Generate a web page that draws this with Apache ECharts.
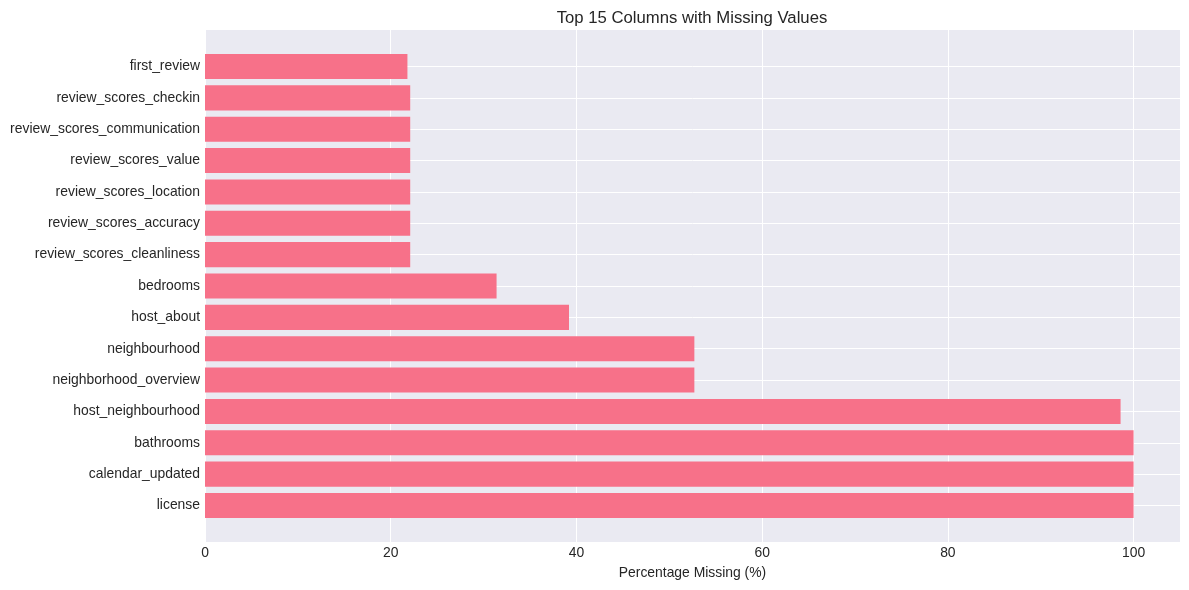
<!DOCTYPE html>
<html>
<head>
<meta charset="utf-8">
<script src="https://cdn.jsdelivr.net/npm/echarts@6/dist/echarts.min.js"></script>
<style>
  html, body { margin: 0; padding: 0; background: #fff; }
  #chart { width: 1189px; height: 590px; }
</style>
</head>
<body>
<div id="chart"></div>
<script>
// 列名（从下往上）
var columns = [
  'license', 'calendar_updated', 'bathrooms', 'host_neighbourhood',
  'neighborhood_overview', 'neighbourhood', 'host_about', 'bedrooms',
  'review_scores_cleanliness', 'review_scores_accuracy', 'review_scores_location',
  'review_scores_value', 'review_scores_communication', 'review_scores_checkin',
  'first_review'
]
// 缺失百分比
var missingPct = [100, 100, 100, 98.6, 52.7, 52.7, 39.2, 31.4, 22.1, 22.1, 22.1, 22.1, 22.1, 22.1, 21.8]
var xTicks = [0, 20, 40, 60, 80, 100]

var font = 'Liberation Sans, Arial, sans-serif'
var textColor = '#262626'

var myChart = echarts.init(document.getElementById('chart'))
var option = {
  animation: false,
  title: {
    text: 'Top 15 Columns with Missing Values',
    left: 687,
    top: 5,
    textAlign: 'center',
    textStyle: { fontFamily: font, fontSize: 16.7, fontWeight: 'normal', color: textColor }
  },
  grid: [
    // 柱子所在区域
    { left: 205, right: 9, top: 66.5, height: 439 },
    // 背景区域
    { left: 205, right: 9, top: 30, bottom: 48, show: true, backgroundColor: '#EAEAF2', borderWidth: 0 }
  ],
  xAxis: [{
    gridIndex: 0,
    type: 'value',
    min: 0,
    max: 105,
    show: false
  }, {
    gridIndex: 1,
    type: 'value',
    min: 0,
    max: 105,
    interval: 20,
    name: 'Percentage Missing (%)',
    nameLocation: 'middle',
    nameGap: 24,
    nameTextStyle: { fontFamily: font, fontSize: 13.9, color: textColor },
    axisLine: { show: false },
    axisTick: { show: false },
    axisLabel: {
      fontFamily: font,
      fontSize: 13.9,
      color: textColor,
      margin: 4,
      showMaxLabel: false,
      formatter: function (v) { return xTicks.indexOf(v) >= 0 ? v : '' }
    },
    splitLine: { show: true, lineStyle: { color: '#ffffff', width: 1 } }
  }],
  yAxis: [{
    gridIndex: 0,
    type: 'category',
    data: columns,
    boundaryGap: false,
    axisLine: { show: false },
    axisTick: { show: false },
    axisLabel: { interval: 0, fontFamily: font, fontSize: 13.9, color: textColor, margin: 5, padding: [4, 0, 0, 0] },
    splitLine: { show: true, interval: 0, lineStyle: { color: '#ffffff', width: 1 } }
  }, {
    gridIndex: 1,
    type: 'value',
    show: false,
    splitLine: { show: false }
  }],
  series: [{
    type: 'bar',
    xAxisIndex: 0,
    yAxisIndex: 0,
    data: missingPct,
    barCategoryGap: '20%',
    clip: false,
    itemStyle: { color: '#F77189' }
  }]
}
myChart.setOption(option)
</script>
</body>
</html>
